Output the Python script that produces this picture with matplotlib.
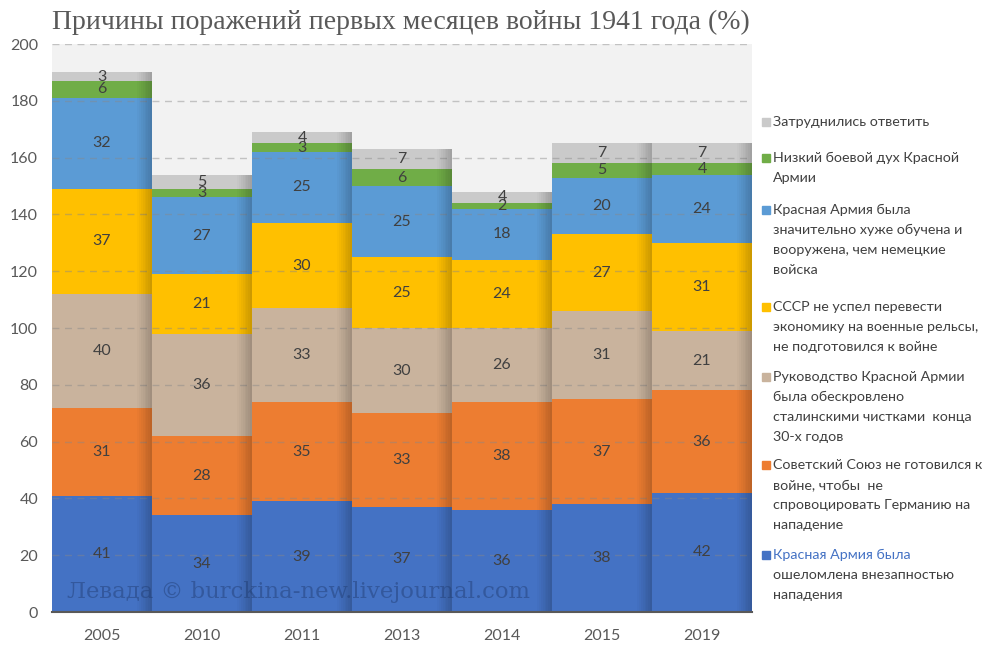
import matplotlib
matplotlib.use('Agg')
from matplotlib import pyplot as plt
from matplotlib.patches import Rectangle
import numpy as np

years = ['2005', '2010', '2011', '2013', '2014', '2015', '2019']

surprise = [41, 34, 39, 37, 36, 38, 42]
not_prepared = [31, 28, 35, 33, 38, 37, 36]
purges = [40, 36, 33, 30, 26, 31, 21]
economy = [37, 21, 30, 25, 24, 27, 31]
worse_trained = [32, 27, 25, 25, 18, 20, 24]
low_morale = [6, 3, 3, 6, 2, 5, 4]
no_answer = [3, 5, 4, 7, 4, 7, 7]

series = [surprise, not_prepared, purges, economy, worse_trained, low_morale, no_answer]
colors = ['#4472c4', '#ed7d31', '#c9b39d', '#ffc000', '#5b9bd5', '#70ad47', '#cacaca']

legend_labels = [
    ['Красная Армия была', 'ошеломлена внезапностью', 'нападения'],
    ['Советский Союз не готовился к', 'войне, чтобы  не', 'спровоцировать Германию на', 'нападение'],
    ['Руководство Красной Армии', 'была обескровлено', 'сталинскими чистками  конца', '30-х годов'],
    ['СССР не успел перевести', 'экономику на военные рельсы,', 'не подготовился к войне'],
    ['Красная Армия была', 'значительно хуже обучена и', 'вооружена, чем немецкие', 'войска'],
    ['Низкий боевой дух Красной', 'Армии'],
    ['Затруднились ответить'],
]

txt = '#404040'
fig = plt.figure(figsize=(10, 6.6), dpi=100)
ax = fig.add_axes([0.052, 0.0727, 0.700, 0.8606])
ax.set_facecolor('#f2f2f2')

x = np.arange(len(years))
bottom = np.zeros(len(years))
for vals, c in zip(series, colors):
    vals = np.array(vals, dtype=float)
    ax.bar(x, vals, width=1.0, bottom=bottom, color=c, zorder=2, linewidth=0)
    for xi, b, v in zip(x, bottom, vals):
        ax.text(xi, b + v / 2, str(int(v)), ha='center', va='center',
                fontsize=11.5, color=txt, family='Lato', zorder=5)
    bottom += vals

# darker shaded right edge on each bar
totals = bottom
n = 8
for k in range(n):
    x0 = 0.35 + k * 0.15 / n
    for xi, t in zip(x, totals):
        ax.add_patch(Rectangle((xi + x0, 0), 0.15 / n, t, color='black',
                               alpha=0.02 + 0.025 * k, lw=0, zorder=3))

ax.set_xlim(-0.5, 6.5)
ax.set_ylim(0, 200)
ax.set_yticks(range(0, 201, 20))
ax.set_xticks(x)
ax.set_xticklabels(years)
ax.yaxis.grid(True, linestyle=(0, (5, 4)), color='#888888', alpha=0.45, lw=1, zorder=4)
ax.set_axisbelow(False)
for s in ['top', 'right', 'left']:
    ax.spines[s].set_visible(False)
ax.spines['bottom'].set_color('#595959')
ax.spines['bottom'].set_linewidth(1.5)
ax.spines['bottom'].set_zorder(6)
ax.tick_params(length=0, labelsize=11.5, colors='#595959', pad=12)
ax.tick_params(axis='y', pad=10)
for lab in ax.get_xticklabels() + ax.get_yticklabels():
    lab.set_family('Lato')

fig.text(0.052, 0.966, 'Причины поражений первых месяцев войны 1941 года (%)',
         fontsize=20, family='Liberation Serif', color='#595959', va='center')

ax.text(0.022, 0.035, 'Левада © burckina-new.livejournal.com', transform=ax.transAxes,
        fontsize=16.4, family='DejaVu Serif', color='#1f3a6e', alpha=0.45, va='center', zorder=7)

# legend, drawn top to bottom
first_y = [555, 465, 377, 307, 210, 158, 122]
for lines, c, y0 in zip(legend_labels, colors, first_y):
    fig.patches.append(Rectangle((762 / 1000, 1 - (y0 + 4) / 660), 8 / 1000, 8 / 660,
                                 transform=fig.transFigure, color=c, figure=fig))
    for i, line in enumerate(lines):
        col = '#4472c4' if (c == '#4472c4' and i == 0) else txt
        fig.text(773 / 1000, 1 - (y0 + i * 20) / 660, line, fontsize=10.3,
                 family='Lato', color=col, va='center')

fig.savefig('out.png', dpi=100)
